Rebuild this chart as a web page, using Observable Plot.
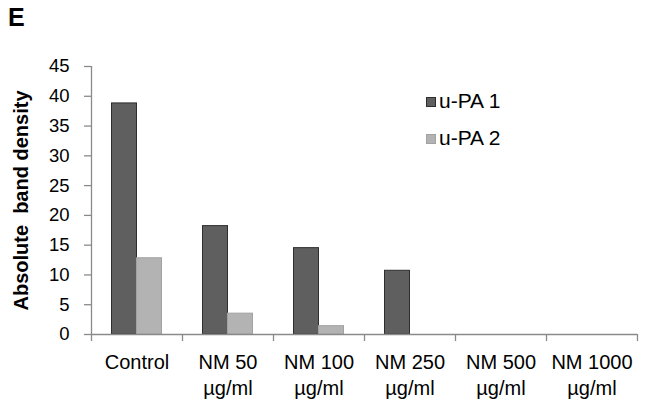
<!DOCTYPE html>
<html><head><meta charset="utf-8">
<script src="https://cdn.jsdelivr.net/npm/d3@7"></script>
<script src="https://cdn.jsdelivr.net/npm/@observablehq/plot@0.6"></script>
<style>
body{margin:0;background:#fff;font-family:"Liberation Sans",Arial,sans-serif}
#wrap{position:relative;width:646px;height:405px;overflow:hidden}
#wrap svg{position:absolute;left:0;top:0}
.panel{position:absolute;left:8px;top:3px;font-size:25px;font-weight:bold;color:#000}
.leg{position:absolute;left:426px;font-size:21px;color:#000;line-height:21px;white-space:nowrap}
.leg i{display:inline-block;width:10px;height:10px;margin-right:3px;vertical-align:1px;box-sizing:border-box}
</style></head><body><div id="wrap"></div>
<script>
const categories = ["Control", "NM 50\nµg/ml", "NM 100\nµg/ml", "NM 250\nµg/ml", "NM 500\nµg/ml", "NM 1000\nµg/ml"];
const series = ["u-PA 1", "u-PA 2"];
const upa1 = [38.8, 18.2, 14.5, 10.7, 0, 0];
const upa2 = [12.8, 3.5, 1.4, 0, 0, 0];
const yTicks = [0, 5, 10, 15, 20, 25, 30, 35, 40, 45];
const yLabel = "Absolute  band density";
const panelLabel = "E";

const colors = ["#5f5f5f", "#b3b3b3"];
const strokes = ["#2e2e2e", "#a2a2a2"];
const gray = "#8a8a8a";

const rows1 = categories.map((c, i) => ({cat: c, s: series[0], v: upa1[i]}));
const rows2 = categories.map((c, i) => ({cat: c, s: series[1], v: upa2[i]}));

const chart = Plot.plot({
  width: 646, height: 405,
  marginLeft: 91, marginRight: 9, marginTop: 66, marginBottom: 71,
  x: {domain: categories, padding: 0},
  y: {domain: [0, 45]},
  color: {domain: series, range: colors},
  style: {fontFamily: '"Liberation Sans", Arial, sans-serif', background: "white", color: "#000", overflow: "visible"},
  marks: [
    Plot.barY(rows1, {filter: d => d.v > 0, x: "cat", y: "v", fill: "s", stroke: strokes[0], strokeWidth: 1, insetLeft: 20.5, insetRight: 45.5}),
    Plot.barY(rows2, {filter: d => d.v > 0, x: "cat", y: "v", fill: "s", stroke: strokes[1], strokeWidth: 1, insetLeft: 45.5, insetRight: 20.5}),
    Plot.ruleY([0], {stroke: gray, strokeWidth: 1.3}),
    Plot.ruleX([categories[0]], {dx: -45.5, y1: 0, y2: 45, stroke: gray, strokeWidth: 1.3}),
    Plot.axisY(yTicks, {tickSize: 7, tickPadding: 15, fontSize: 18.5, label: null, stroke: gray, strokeWidth: 1.3}),
    Plot.axisX({tickSize: 0, tickPadding: 16, fontSize: 20, lineHeight: 1.3, label: null}),
    Plot.axisX(categories, {tickSize: 7, tickFormat: () => "", dx: -45.5, stroke: gray, strokeWidth: 1.3, label: null}),
    Plot.axisX([categories[categories.length - 1]], {tickSize: 7, tickFormat: () => "", dx: 45.5, stroke: gray, strokeWidth: 1.3, label: null}),
    Plot.text([yLabel], {frameAnchor: "left", textAnchor: "middle", lineAnchor: "middle", dx: -70, rotate: -90, fontSize: 20, fontWeight: "bold", fill: "#000"})
  ]
});
const wrap = document.getElementById("wrap");
wrap.appendChild(chart);
const p = document.createElement("div");
p.className = "panel"; p.textContent = panelLabel; wrap.appendChild(p);
const legTops = [90, 127];
series.forEach((s, i) => {
  const d = document.createElement("div");
  d.className = "leg"; d.style.top = legTops[i] + "px";
  const sw = document.createElement("i");
  sw.style.background = colors[i]; sw.style.border = "1px solid " + strokes[i];
  d.appendChild(sw); d.appendChild(document.createTextNode(s));
  wrap.appendChild(d);
});
</script></body></html>
